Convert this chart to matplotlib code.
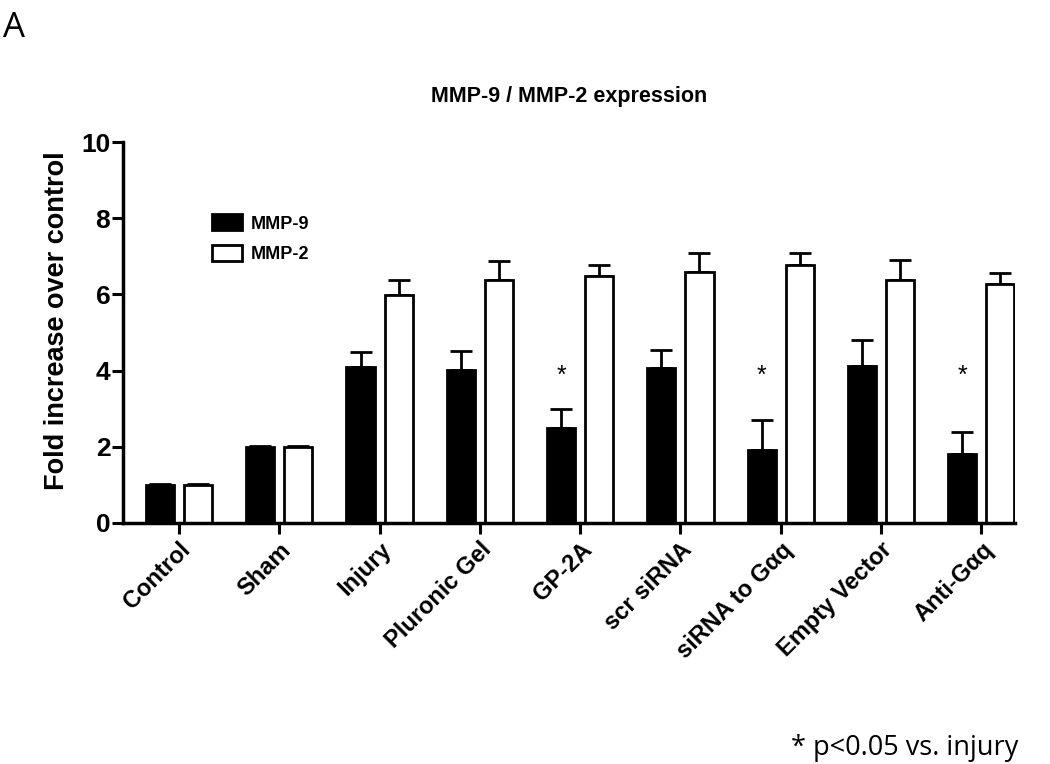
import matplotlib.pyplot as plt
import numpy as np

# data
groups = ['Control', 'Sham', 'Injury', 'Pluronic Gel', 'GP-2A', 'scr siRNA',
          'siRNA to Gαq', 'Empty Vector', 'Anti-Gαq']
mmp9 = [1.0, 2.0, 4.1, 4.02, 2.5, 4.07, 1.92, 4.12, 1.81]
mmp9_err = [0.02, 0.02, 0.4, 0.49, 0.49, 0.47, 0.77, 0.67, 0.58]
mmp2 = [1.0, 2.0, 5.99, 6.39, 6.49, 6.58, 6.78, 6.39, 6.27]
mmp2_err = [0.02, 0.02, 0.39, 0.49, 0.29, 0.51, 0.31, 0.5, 0.3]
signif = [False, False, False, False, True, False, True, False, True]

plt.rcParams['font.family'] = ['Liberation Sans', 'DejaVu Sans']

fig = plt.figure(figsize=(10.5, 7.64), dpi=100)
ax = fig.add_axes([0.117, 0.3155, 0.85, 0.4986])

x = np.arange(len(groups))
w = 0.28
off = 0.19
lw = 2.0
ax.bar(x - off, mmp9, w, color='black', edgecolor='black', linewidth=lw,
       label='MMP-9', zorder=2)
ax.bar(x + off, mmp2, w, color='white', edgecolor='black', linewidth=lw,
       label='MMP-2', zorder=2)
ax.errorbar(x - off, mmp9, yerr=[np.zeros(len(x)), mmp9_err], fmt='none',
            ecolor='black', elinewidth=2, capsize=8, capthick=2, zorder=1)
ax.errorbar(x + off, mmp2, yerr=[np.zeros(len(x)), mmp2_err], fmt='none',
            ecolor='black', elinewidth=2, capsize=8, capthick=2, zorder=1)

# significance marks vs. injury
for i, s in enumerate(signif):
    if s:
        ax.text(x[i] - off, 3.85, '*', ha='center', va='center', fontsize=18)

ax.set_xlim(-0.56, 8.34)
ax.set_ylim(0, 10)
ax.set_yticks([0, 2, 4, 6, 8, 10])
ax.set_xticks(x)
ax.set_xticklabels(groups, rotation=45, ha='right', rotation_mode='anchor',
                   fontsize=17, fontweight='bold')
for lab in ax.get_yticklabels():
    lab.set_fontsize(19)
    lab.set_fontweight('bold')
ax.tick_params(axis='both', direction='out', length=8, width=2.2)
ax.tick_params(axis='x', pad=3)
ax.tick_params(axis='y', pad=1)
for side in ['top', 'right']:
    ax.spines[side].set_visible(False)
for side in ['left', 'bottom']:
    ax.spines[side].set_linewidth(2.5)

ax.set_ylabel('Fold increase over control', fontsize=19.5, fontweight='bold')
ax.yaxis.set_label_coords(-0.059, 0.53)
ax.set_title('MMP-9 / MMP-2 expression', fontsize=15.5, fontweight='bold',
             pad=29)

leg = ax.legend(loc='upper left', bbox_to_anchor=(0.082, 0.853), frameon=False,
                prop={'size': 13, 'weight': 'bold'}, handlelength=1.65,
                handleheight=1.0, labelspacing=0.67, handletextpad=0.5)

fig.text(0.003, 0.985, 'A', fontsize=25, family='Open Sans', va='top', ha='left')
fig.text(0.9695, 0.012, '* p<0.05 vs. injury', fontsize=19.5, family='Open Sans',
         ha='right', va='baseline')

fig.savefig('out.png', dpi=100)
